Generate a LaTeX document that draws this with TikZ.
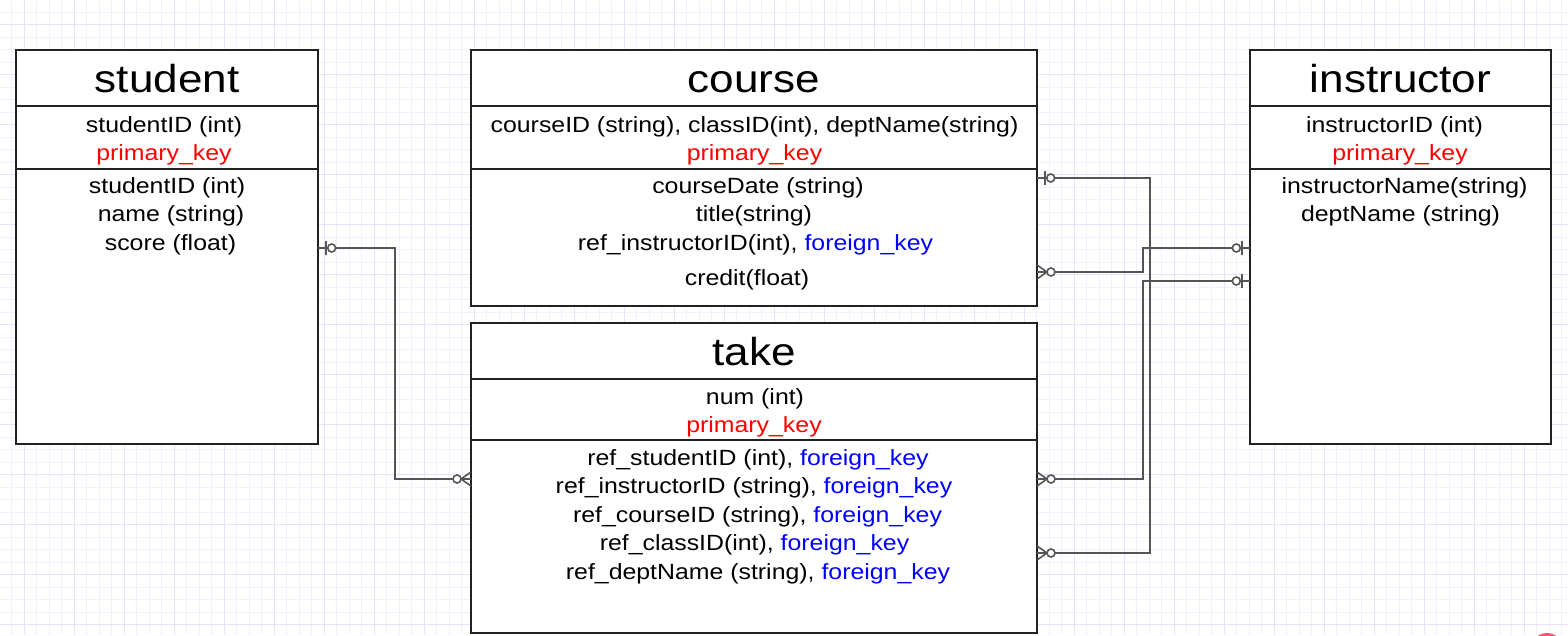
\documentclass[tikz,border=0pt]{standalone}
\usepackage{fontspec}
\setmainfont{Liberation Sans}[FakeStretch=1.13]
\definecolor{pkred}{RGB}{255,0,0}
\definecolor{fkblue}{RGB}{0,0,255}
\definecolor{gridminor}{RGB}{242,240,252}
\definecolor{gridmajor}{RGB}{230,226,250}
\definecolor{connc}{RGB}{85,85,85}
\definecolor{boxc}{RGB}{34,34,34}
\definecolor{blobc}{RGB}{240,90,120}
\newcommand{\fk}{\textcolor{fkblue}{foreign\_key}}
\begin{document}
\begin{tikzpicture}[x=1pt,y=-1pt,
  box/.style={draw=boxc,line width=1.2pt,fill=white,rectangle,anchor=north west,inner sep=0pt,outer sep=0pt},
  divider/.style={draw=boxc,line width=1.2pt},
  ttl/.style={anchor=base,inner sep=0pt,font=\fontsize{39}{45}\selectfont},
  txt/.style={anchor=base,inner sep=0pt,font=\fontsize{22}{26}\selectfont},
  pk/.style={txt,text=pkred},
  conn/.style={draw=connc,line width=1.6pt},
  zeroone/.pic={\draw[conn] (8,-7) -- (8,7); \draw[conn,fill=white] (13.7,0) circle[radius=4pt];},
  zeromany/.pic={\draw[conn] (0,-7) -- (10,0) -- (0,7); \draw[conn,fill=white] (14,0) circle[radius=4pt];}
]
\useasboundingbox (0,0) rectangle (1568,635);
\fill[white] (0,0) rectangle (1568,635);
% grid
\foreach \i in {0,...,126} {\draw[gridminor,line width=0.8pt] (\i*12.5-1,0) -- (\i*12.5-1,635);}
\foreach \j in {0,...,51} {\draw[gridminor,line width=0.8pt] (0,\j*12.5-0.5) -- (1568,\j*12.5-0.5);}
\foreach \i in {0,...,31} {\draw[gridmajor,line width=0.8pt] (24+\i*50,0) -- (24+\i*50,635);}
\foreach \j in {0,...,12} {\draw[gridmajor,line width=0.8pt] (0,24+\j*50) -- (1568,24+\j*50);}

% boxes
\node[box,minimum width=302pt,minimum height=394pt] (student) at (16,50) {};
\node[box,minimum width=566pt,minimum height=256pt] (course) at (471,50) {};
\node[box,minimum width=566pt,minimum height=310pt] (take) at (471,323) {};
\node[box,minimum width=301pt,minimum height=394pt] (instructor) at (1250,50) {};

\foreach \b in {student,course,instructor} {
  \draw[divider] ([yshift=-56pt]\b.north west) -- ([yshift=-56pt]\b.north east);
  \draw[divider] ([yshift=-119pt]\b.north west) -- ([yshift=-119pt]\b.north east);
}
\draw[divider] ([yshift=-56pt]take.north west) -- ([yshift=-56pt]take.north east);
\draw[divider] ([yshift=-117pt]take.north west) -- ([yshift=-117pt]take.north east);

% student texts
\node[ttl] (sT) at (167,92.5) {student};
\node[txt] (sK1) at (164,132) {studentID (int)};
\node[pk]  (sK2) at (164,160) {primary\_key};
\node[txt] (sA1) at (167,193) {studentID (int)};
\node[txt] (sA2) at (171,221.5) {name (string)};
\node[txt] (sA3) at (170.5,250) {score (float)};

% course texts
\node[ttl] (cT) at (754,92.5) {course};
\node[txt] (cK1) at (754.5,132) {courseID (string), classID(int), deptName(string)};
\node[pk]  (cK2) at (754.5,160) {primary\_key};
\node[txt] (cA1) at (758,193) {courseDate (string)};
\node[txt] (cA2) at (754,221.5) {title(string)};
\node[txt] (cA3) at (755.5,250) {ref\_instructorID(int), \fk};
\node[txt] (cA4) at (747,285) {credit(float)};

% instructor texts
\node[ttl] (iT) at (1400.5,92.5) {instructor};
\node[txt] (iK1) at (1394.5,132) {instructorID (int)};
\node[pk]  (iK2) at (1400,160) {primary\_key};
\node[txt] (iA1) at (1404.5,193) {instructorName(string)};
\node[txt] (iA2) at (1400.5,221.5) {deptName (string)};

% take texts
\node[ttl] (tT) at (754,365.5) {take};
\node[txt] (tK1) at (755,404) {num (int)};
\node[pk]  (tK2) at (754,432) {primary\_key};
\node[txt] (tA1) at (758,465) {ref\_studentID (int), \fk};
\node[txt] (tA2) at (754,493.5) {ref\_instructorID (string), \fk};
\node[txt] (tA3) at (757.5,522) {ref\_courseID (string), \fk};
\node[txt] (tA4) at (754.5,550.5) {ref\_classID(int), \fk};
\node[txt] (tA5) at (758,579) {ref\_deptName (string), \fk};

% connection points
\coordinate (sR)  at ([yshift=-198pt]student.north east);
\coordinate (tL)  at ([yshift=-156pt]take.north west);
\coordinate (cR1) at ([yshift=-128pt]course.north east);
\coordinate (cR2) at ([yshift=-222pt]course.north east);
\coordinate (iL1) at ([yshift=-198pt]instructor.north west);
\coordinate (iL2) at ([yshift=-231pt]instructor.north west);
\coordinate (tR1) at ([yshift=-156pt]take.north east);
\coordinate (tR2) at ([yshift=-230pt]take.north east);

% connectors
\draw[conn] (sR) -- ++(77,0) |- (tL);
\draw[conn] (cR1) -- ++(113,0) |- (tR2);
\draw[conn] (cR2) -- ++(106,0) |- (iL1);
\draw[conn] (tR1) -- ++(106,0) |- (iL2);

% markers
\pic at (sR) {zeroone};
\pic[rotate=180] at (tL) {zeromany};
\pic at (cR1) {zeroone};
\pic at (tR2) {zeromany};
\pic at (cR2) {zeromany};
\pic[rotate=180] at (iL1) {zeroone};
\pic at (tR1) {zeromany};
\pic[rotate=180] at (iL2) {zeroone};

% pink blob at bottom right
\begin{scope}
\clip (0,0) rectangle (1568,635);
\fill[blobc] (1547,649) circle[radius=16pt];
\end{scope}
\end{tikzpicture}
\end{document}
